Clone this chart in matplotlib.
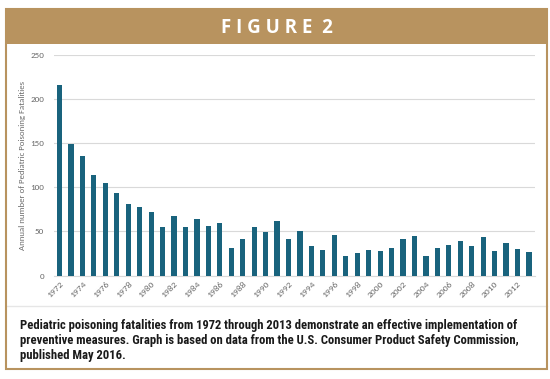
import matplotlib
matplotlib.use("Agg")
import matplotlib.pyplot as plt
from matplotlib.patches import Rectangle
from matplotlib.lines import Line2D

years = list(range(1972, 2014))
fatalities = [216, 149, 135, 114, 105, 94, 81, 78, 72, 55,
              67, 55, 64, 56, 59, 31, 42, 55, 49, 62,
              42, 50, 34, 29, 46, 22, 26, 29, 28, 31,
              42, 45, 22, 31, 35, 39, 34, 44, 28, 37,
              30, 27]
tick_labels = [str(y) for y in years[::2]]
y_ticks = [0, 50, 100, 150, 200, 250]
title_text = "F I G U R E  2"
ylabel_text = "Annual number of Pediatric Poisoning Fatalities"
caption_text = ("Pediatric poisoning fatalities from 1972 through 2013 demonstrate an effective implementation of\n"
                "preventive measures. Graph is based on data from the U.S. Consumer Product Safety Commission,\n"
                "published May 2016.")

W, H = 550, 379
fig = plt.figure(figsize=(W / 100, H / 100), dpi=100)
fig.patch.set_facecolor("white")

gold = "#B8935F"
bar_color = "#19637D"
grid_color = "#D9D9D9"
tick_color = "#6B6B6B"
small_font = ["Carlito", "Open Sans", "DejaVu Sans"]

def px(x, y):
    return x / W, 1 - y / H

# Outer border
fig.patches.append(Rectangle(px(6, 369), 541 / W, 360 / H, transform=fig.transFigure,
                             fill=False, edgecolor=gold, linewidth=1.5, zorder=5))
# Header band
fig.patches.append(Rectangle(px(6, 44), 541 / W, 35 / H, transform=fig.transFigure,
                             facecolor=gold, edgecolor="none", zorder=4))
x0, y0 = px(277, 28)
fig.text(x0, y0, title_text, color="white", fontsize=13.5, fontweight="bold",
         family=["Open Sans", "DejaVu Sans"], ha="center", va="center", zorder=6)

# Separator line
xa, ya = px(6, 306)
xb, _ = px(547, 306)
fig.lines.append(Line2D([xa, xb], [ya, ya], transform=fig.transFigure,
                        color="#E6E6E6", linewidth=1.0))

# Chart
ax = fig.add_axes([53.8 / W, 103.3 / H, (534.7 - 53.8) / W, (275.7 - 54.5) / H])
xs = list(range(len(years)))
ax.bar(xs, fatalities, width=0.45, color=bar_color, zorder=3)
ax.set_xlim(-0.5, len(years) - 0.5)
ax.set_ylim(0, 250)
ax.set_yticks(y_ticks)
ax.set_yticklabels([str(v) for v in y_ticks], color=tick_color, fontsize=6.5, family=small_font)
ax.set_xticks(xs[::2])
ax.set_xticklabels(tick_labels, rotation=45, color=tick_color, fontsize=6.8, family=small_font,
                   ha="right", rotation_mode="anchor")
ax.tick_params(axis="y", length=0, pad=7)
ax.tick_params(axis="x", length=0, pad=3)
for s in ["top", "right", "left"]:
    ax.spines[s].set_visible(False)
ax.spines["bottom"].set_color(grid_color)
ax.spines["bottom"].set_linewidth(0.8)
ax.yaxis.grid(True, color=grid_color, linewidth=0.8, zorder=0)
ax.set_axisbelow(True)
ax.set_ylabel(ylabel_text, color=tick_color, fontsize=6.3, family=small_font, labelpad=3)

# Caption
cx, cy = px(20, 318.5)
fig.text(cx, cy, caption_text, fontsize=9.1, fontweight="bold", color="#1A1A1A",
         family=["Roboto Condensed", "Archivo Narrow", "PT Sans Narrow", "DejaVu Sans"],
         ha="left", va="top", linespacing=1.22)

fig.savefig("out.png", dpi=100, facecolor="white")
